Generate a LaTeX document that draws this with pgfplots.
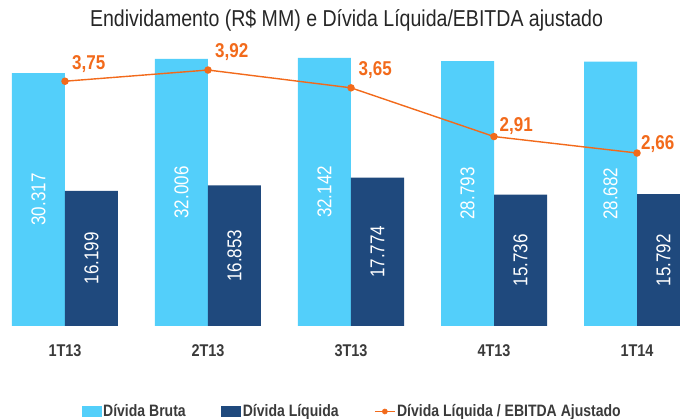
\documentclass[border=0pt]{standalone}
\usepackage{pgfplots}
\pgfplotsset{compat=1.18}
\usepackage{pgfplotstable}
\usepackage{fontspec}
\setmainfont{Liberation Sans}[FakeStretch=0.85]
\definecolor{cBruta}{HTML}{53CFFA}
\definecolor{cLiq}{HTML}{1F497D}
\definecolor{cOrange}{HTML}{F26A1B}
\definecolor{cText}{HTML}{3A3A3A}
% bar heights as drawn in the picture; labels as printed
\pgfplotstableread{
x bruta blab liq llab ratio rlab dx dy
0 30317 30.317 16199 16.199 3.75 3,75 6.5 12
1 32006 32.006 16853 16.853 3.92 3,92 6.5 13
2 32142 32.142 17774 17.774 3.65 3,65 7 12
3 31760 28.793 15736 15.736 2.91 2,91 5 5
4 31690 28.682 15792 15.792 2.66 2,66 3.5 3.5
}\data
\begin{document}
\begin{tikzpicture}
\useasboundingbox (0,0) rectangle (680pt,419pt);
\begin{axis}[
  at={(0pt,93pt)}, anchor=south west,
  scale only axis, width=680pt, height=292pt,
  xmin=-0.4545, xmax=4.3007, ymin=0, ymax=35000,
  ybar=0pt, bar width=53pt,
  axis line style={draw=none},
  ytick=\empty,
  xtick={0,...,4}, xticklabels={1T13,2T13,3T13,4T13,1T14},
  major tick length=0pt,
  xticklabel style={font=\bfseries\fontsize{17}{17}\selectfont, text=cText, anchor=base, yshift=-31pt},
  title={Endividamento (R\$ MM) e Dívida Líquida/EBITDA ajustado},
  title style={at={(0.5096,1.006)}, anchor=base, font=\fontsize{23}{23}\selectfont, text=black!85},
  legend columns=3,
  legend style={at={(0.5176,-0.2928)}, anchor=center, draw=none, fill=none, inner sep=0pt, font=\bfseries\fontsize{16.5}{16.5}\selectfont, text=cText, /tikz/every even column/.append style={column sep=34pt}, nodes={inner sep=1.5pt}},
  point meta=explicit symbolic,
  visualization depends on=rawy \as \rawy,
  nodes near coords,
  every node near coord/.append style={shift={(axis direction cs:0,-\rawy/2)}, rotate=90, anchor=center, text=white, font=\fontsize{20}{20}\selectfont},
]
\addplot[fill=cBruta, draw=none, legend image code/.code={\fill[cBruta] (0pt,-5.5pt) rectangle (20pt,5.5pt);}] table[x=x, y=bruta, meta=blab] {\data};
\addlegendentry{Dívida Bruta}
\addplot[fill=cLiq, draw=none, legend image code/.code={\fill[cLiq] (0pt,-5.5pt) rectangle (20pt,5.5pt);}] table[x=x, y=liq, meta=llab] {\data};
\addlegendentry{Dívida Líquida}
\addlegendimage{legend image code/.code={\draw[cOrange, line width=1.5pt] (0pt,0pt) -- (20pt,0pt); \fill[cOrange] (10pt,0pt) circle (2.6pt);}}
\addlegendentry{Dívida Líquida / EBITDA Ajustado}
\end{axis}
\begin{axis}[
  at={(0pt,93pt)}, anchor=south west,
  scale only axis, width=680pt, height=292pt,
  xmin=-0.4545, xmax=4.3007, ymin=0.034, ymax=4.467,
  hide axis, clip=false,
]
\addplot[cOrange, line width=1.4pt, mark=*, mark size=3pt, mark options={fill=cOrange, draw=cOrange},
  nodes near coords, point meta=explicit symbolic,
  visualization depends on={\thisrow{dx} \as \dx},
  visualization depends on={\thisrow{dy} \as \dy},
  every node near coord/.append style={anchor=base west, xshift=\dx pt, yshift=\dy pt, inner sep=0pt, font=\bfseries\fontsize{20}{20}\selectfont, text=cOrange}]
  table[x=x, y=ratio, meta=rlab] {\data};
\end{axis}
\end{tikzpicture}
\end{document}
